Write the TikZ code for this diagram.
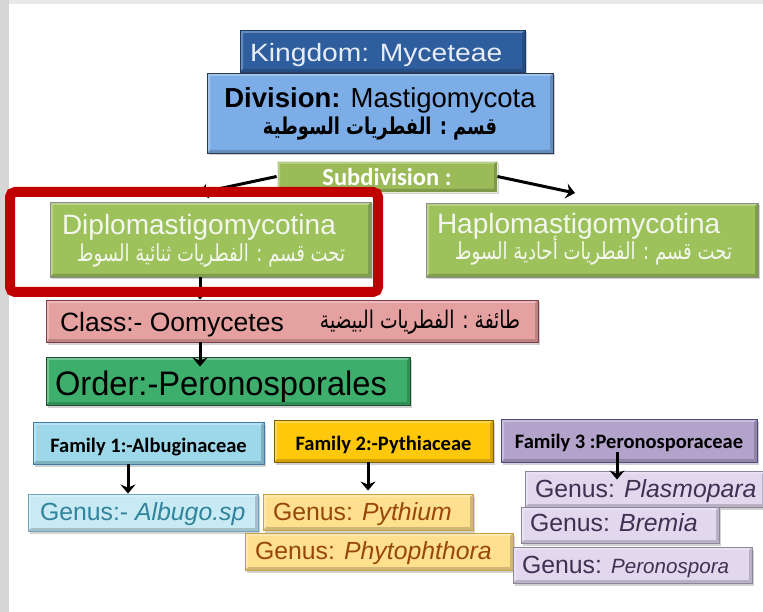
\documentclass[tikz,border=0pt]{standalone}
\usepackage{fontspec}
\usepackage{graphicx}
\setmainfont{Liberation Sans}
\newfontfamily\calfont{Carlito}
\newfontfamily\arfont[Script=Arabic]{DejaVu Sans}
\TeXXeTstate=1
\usetikzlibrary{arrows.meta,shadows,calc}
\definecolor{kingF}{HTML}{2F5E9E}
\definecolor{kingD}{HTML}{1C3A66}
\definecolor{kingT}{HTML}{E8ECF5}
\definecolor{divF}{HTML}{7DADE6}
\definecolor{divD}{HTML}{2B3A4F}
\definecolor{subF}{HTML}{9BBB59}
\definecolor{subD}{HTML}{E4ECD4}
\definecolor{dipF}{HTML}{9DC25B}
\definecolor{dipD}{HTML}{8C8C8C}
\definecolor{dipT}{HTML}{F4F7EE}
\definecolor{clsF}{HTML}{E5A0A0}
\definecolor{clsD}{HTML}{7F3B47}
\definecolor{ordF}{HTML}{3DAE6B}
\definecolor{ordD}{HTML}{1F4F30}
\definecolor{faAF}{HTML}{9CD7EA}
\definecolor{faAD}{HTML}{3E7DA9}
\definecolor{faBF}{HTML}{FFC80A}
\definecolor{faBD}{HTML}{7F6000}
\definecolor{faCF}{HTML}{B3A3CB}
\definecolor{faCD}{HTML}{4B4A82}
\definecolor{alF}{HTML}{C7EAF4}
\definecolor{alD}{HTML}{6FA6BD}
\definecolor{alT}{HTML}{31849B}
\definecolor{pyF}{HTML}{FFE08F}
\definecolor{pyD}{HTML}{C6A348}
\definecolor{pyT}{HTML}{984806}
\definecolor{plF}{HTML}{E1D8EE}
\definecolor{plD}{HTML}{8E879C}
\definecolor{plT}{HTML}{3F3151}
\definecolor{frameRed}{HTML}{C00000}
\newcommand\fsz[1]{\fontsize{#1}{#1}\selectfont}
\newcommand\lftxt[2]{\makebox[0pt]{\makebox[#1][l]{#2}}}
\newcommand\rgtxt[2]{\makebox[0pt]{\makebox[#1][r]{#2}}}
\newcommand\cntxt[1]{\makebox[0pt]{#1}}
\newcommand\artxt[2]{\scalebox{1}[1.3]{\resizebox{#1}{!}{\arfont #2}}}
\tikzset{
  bx/.style 2 args={draw=#2, fill=#1, rectangle, inner sep=0pt, line width=0.9pt,
    drop shadow={shadow xshift=2pt, shadow yshift=-2.5pt, opacity=0.35},
    path picture={
      \fill[white,opacity=0.28] (path picture bounding box.south west) -- (path picture bounding box.north west) -- (path picture bounding box.north east) -- ([shift={(-3pt,-3pt)}]path picture bounding box.north east) -- ([shift={(3pt,-3pt)}]path picture bounding box.north west) -- ([shift={(3pt,3pt)}]path picture bounding box.south west) -- cycle;
      \fill[black,opacity=0.18] (path picture bounding box.south west) -- (path picture bounding box.south east) -- (path picture bounding box.north east) -- ([shift={(-3pt,-3pt)}]path picture bounding box.north east) -- ([shift={(-3pt,3pt)}]path picture bounding box.south east) -- ([shift={(3pt,3pt)}]path picture bounding box.south west) -- cycle;
    }},
  connector/.style={draw=black, line width=3pt, -{Stealth[length=9pt,width=15pt,inset=3pt]}},
}
\begin{document}
\begin{tikzpicture}[x=1pt,y=-1pt]
\useasboundingbox (0,0) rectangle (763,612);
\fill[white] (0,0) rectangle (763,612);
\fill[black!16] (0,0) rectangle (9,612);
\fill[black!9] (9,0) rectangle (763,4);

\coordinate (xa) at (200,0);
\coordinate (xf1) at (128,0);
\coordinate (xf2) at (368,0);
\coordinate (xf3) at (617,0);
\coordinate (dtip) at (199,193);
\coordinate (htip) at (575,193);

\node[bx={kingF}{kingD}, minimum width=285pt, minimum height=42pt, text height=22pt, text depth=0pt, text=kingT] (king) at (382.5,51)
  {\fsz{25}\lftxt{265pt}{\scalebox{1.13}[1]{Kingdom: Myceteae}}};
\node[bx={divF}{divD}, minimum width=346pt, minimum height=80pt, text height=0pt, text depth=10.6pt] (div) at (380,113)
  {\cntxt{\fsz{27.5}\textbf{Division:} Mastigomycota}\cntxt{\raisebox{-27.3pt}{\artxt{234pt}{\bfseries\beginR قسم : الفطريات السوطية\endR}}}};
\node[bx={subF}{subD}, minimum width=220pt, minimum height=31pt, text height=18.4pt, text depth=0pt, text=white] (sub) at (387,176.5)
  {\cntxt{\calfont\bfseries\fsz{24.5}Subdivision :}};
\node[bx={dipF}{dipD}, minimum width=321pt, minimum height=75pt, text height=0pt, text depth=10.4pt, text=dipT] (diplo) at (210.5,239.5)
  {\lftxt{297pt}{\fsz{28}Diplomastigomycotina}\rgtxt{269pt}{\raisebox{-27.4pt}{\artxt{268pt}{\beginR تحت قسم : الفطريات ثنائية السوط\endR}}}};
\node[bx={dipF}{dipD}, minimum width=332pt, minimum height=74pt, text height=0pt, text depth=13.4pt, text=dipT] (haplo) at (592,240)
  {\lftxt{310pt}{\fsz{28}Haplomastigomycotina}\rgtxt{280pt}{\raisebox{-26.7pt}{\artxt{277pt}{\beginR تحت قسم : الفطريات أحادية السوط\endR}}}};
\node[bx={clsF}{clsD}, minimum width=492pt, minimum height=42pt, text height=21.4pt, text depth=0pt] (cls) at (292,321)
  {\lftxt{464pt}{\fsz{26.5}Class:- Oomycetes}\rgtxt{456pt}{\raisebox{3pt}{\artxt{200pt}{\beginR طائفة : الفطريات البيضية\endR}}}};
\node[bx={ordF}{ordD}, minimum width=364pt, minimum height=48pt, text height=28pt, text depth=0pt] (ord) at (228,381)
  {\lftxt{346pt}{\fsz{34}\scalebox{0.96}[1]{Order:-Peronosporales}}};

\node[bx={faAF}{faAD}, minimum width=231pt, minimum height=42pt, text height=18.6pt, text depth=0pt] (fam1) at (148.5,443)
  {\cntxt{\calfont\bfseries\fsz{20.5}Family 1:-Albuginaceae}};
\node[bx={faBF}{faBD}, minimum width=219pt, minimum height=42pt, text height=18pt, text depth=0pt] (fam2) at (383.5,441)
  {\cntxt{\calfont\bfseries\fsz{20.5}Family 2:-Pythiaceae}};
\node[bx={faCF}{faCD}, minimum width=256pt, minimum height=43pt, text height=15.6pt, text depth=0pt] (fam3) at (629,440.5)
  {\cntxt{\calfont\bfseries\fsz{20.5}Family 3 :Peronosporaceae}};

\node[bx={alF}{alD}, minimum width=230pt, minimum height=37pt, text height=16.4pt, text depth=0pt, text=alT] (albugo) at (143,512.5)
  {\lftxt{206pt}{\fsz{24.8}Genus:- \textit{Albugo.sp}}};
\node[bx={pyF}{pyD}, minimum width=210pt, minimum height=36pt, text height=17.4pt, text depth=0pt, text=pyT] (pythium) at (368,512)
  {\lftxt{190pt}{\fsz{24.8}Genus: \textit{Pythium}}};
\node[bx={pyF}{pyD}, minimum width=268pt, minimum height=37pt, text height=15.6pt, text depth=0pt, text=pyT] (phyto) at (379,551.5)
  {\lftxt{248pt}{\fsz{24.8}Genus: \textit{Phytophthora}}};
\node[bx={plF}{plD}, minimum width=240pt, minimum height=36pt, text height=16.6pt, text depth=0pt, text=plT] (plasmo) at (645,489)
  {\lftxt{220pt}{\fsz{24.8}Genus: \textit{Plasmopara}}};
\node[bx={plF}{plD}, minimum width=198pt, minimum height=36pt, text height=13.4pt, text depth=0pt, text=plT] (bremia) at (620,525)
  {\lftxt{180pt}{\fsz{24.8}Genus: \textit{Bremia}}};
\node[bx={plF}{plD}, minimum width=239pt, minimum height=36pt, text height=16.6pt, text depth=0pt, text=plT] (perono) at (632.5,565)
  {\lftxt{221pt}{\fsz{24.8}Genus: {\fsz{20.6}\itshape Peronospora}}};

\path[connector] (sub.west) -- (dtip);
\path[connector] (sub.east) -- (htip);
\path[connector] (diplo.south -| xa) -- (cls.north -| xa);
\path[connector, shorten >=-10pt] (cls.south -| xa) -- (ord.north -| xa);
\path[connector] (fam1.south -| xf1) -- (albugo.north -| xf1);
\path[connector, shorten >=3pt] (fam2.south -| xf2) -- (pythium.north -| xf2);
\path[connector, shorten <=-10pt, shorten >=-9pt] (fam3.south -| xf3) -- (plasmo.north -| xf3);

\node[draw=frameRed, line width=10pt, rounded corners=5pt, minimum width=368pt, minimum height=100pt, inner sep=0pt] (frame) at (194,242) {};
\end{tikzpicture}
\end{document}
